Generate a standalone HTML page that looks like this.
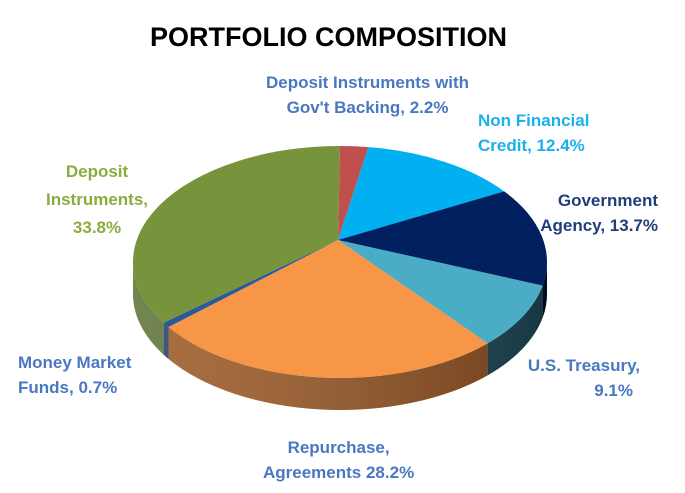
<!DOCTYPE html>
<html><head><meta charset="utf-8"><style>
body{margin:0;background:#fff;width:685px;height:493px;overflow:hidden;font-family:"Liberation Sans",sans-serif}
.t{position:absolute;font-weight:bold;font-size:17px;line-height:25px;white-space:nowrap}
</style></head><body>
<div style="position:absolute;left:150px;top:22px;font-weight:bold;font-size:27px;color:#000">PORTFOLIO COMPOSITION</div>
<svg id="s" width="685" height="493" style="position:absolute;left:0;top:0"></svg>
<div class="t" style="left:266px;top:70px;color:#4a78c0;text-align:center">Deposit Instruments with<br>Gov't Backing, 2.2%</div>
<div class="t" style="left:478px;top:108px;color:#1ab0ee">Non Financial<br>Credit, 12.4%</div>
<div class="t" style="right:27px;top:188px;color:#1f3f7a;text-align:right">Government<br>Agency, 13.7%</div>
<div class="t" style="right:45px;top:353px;color:#4a78c0;text-align:right">U.S. Treasury,<br><span style="margin-right:7px">9.1%</span></div>
<div class="t" style="left:263px;top:435px;color:#4a78c0;text-align:center">Repurchase,<br>Agreements 28.2%</div>
<div class="t" style="left:18px;top:350px;color:#4a78c0">Money Market<br>Funds, 0.7%</div>
<div class="t" style="left:46px;top:158px;color:#8aac3c;text-align:center;line-height:28px">Deposit<br>Instruments,<br>33.8%</div>
<script>
var cx=340,cy=262,rx=207,ry=116,d=32,ax=338,ay=240,ns="http://www.w3.org/2000/svg";
var data=[[2.2,"#c0504d","#8a3633"],[12.4,"#00b0f0","#007aa8"],[13.7,"#002060","#001030"],[9.1,"#4bacc6","#1f4e5e"],[28.2,"#f79646","#9a5520"],[0.7,"#2a5a9a","#1a3a6a"],[33.8,"#77933c","#5a7030"]];
var s=document.getElementById("s");
function P(t,dy){return [cx+rx*Math.sin(t),cy-ry*Math.cos(t)+(dy||0)];}
var a=0,sides="",tops="";
data.forEach(function(e){
 var b=a+e[0]/100.1*2*Math.PI;
 var lo=Math.max(a,Math.PI/2),hi=Math.min(b,3*Math.PI/2);
 if(hi>lo){
  var p1=P(lo),p2=P(hi),p3=P(hi,d),p4=P(lo,d);
  sides+='<path fill="'+e[2]+'" d="M'+p1+' A'+rx+','+ry+' 0 0 1 '+p2+' L'+p3+' A'+rx+','+ry+' 0 0 0 '+p4+'Z"/>';
 }
 var q1=P(a),q2=P(b),lg=(b-a)>Math.PI?1:0;
 tops+='<path fill="'+e[1]+'" d="M'+ax+','+ay+' L'+q1+' A'+rx+','+ry+' 0 '+lg+' 1 '+q2+'Z"/>';
 a=b;
});
s.innerHTML='<defs><linearGradient id="g" x1="0" x2="1"><stop offset="0" stop-color="#fff" stop-opacity="0.15"/><stop offset="1" stop-color="#000" stop-opacity="0.3"/></linearGradient></defs>'+sides+'<path fill="url(#g)" d="M'+P(Math.PI/2)+' A'+rx+','+ry+' 0 0 1 '+P(3*Math.PI/2)+' L'+P(3*Math.PI/2,d)+' A'+rx+','+ry+' 0 0 0 '+P(Math.PI/2,d)+'Z"/>'+tops;
</script>
</body></html>
